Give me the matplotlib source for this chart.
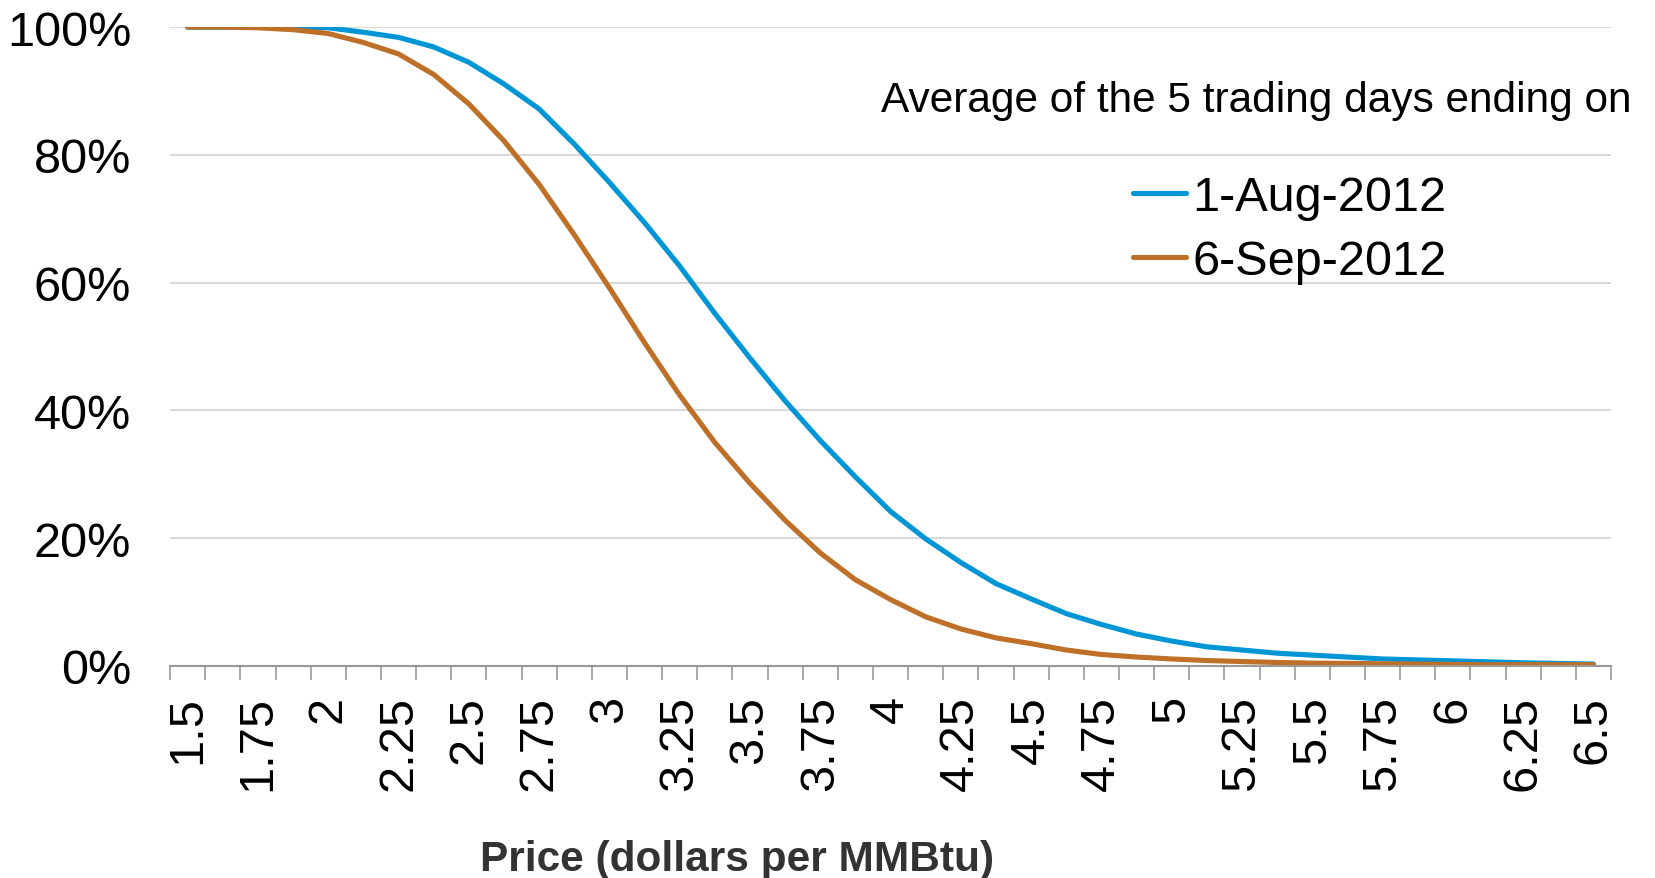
import matplotlib
matplotlib.use("Agg")
import matplotlib.pyplot as plt
from matplotlib.ticker import FixedLocator, PercentFormatter

plt.rcParams['font.family'] = ['Liberation Sans', 'DejaVu Sans']

# Price grid (dollars per MMBtu), one category every 12.5 cents
prices = [1.5, 1.625, 1.75, 1.875, 2.0, 2.125, 2.25, 2.375, 2.5, 2.625,
          2.75, 2.875, 3.0, 3.125, 3.25, 3.375, 3.5, 3.625, 3.75, 3.875,
          4.0, 4.125, 4.25, 4.375, 4.5, 4.625, 4.75, 4.875, 5.0, 5.125,
          5.25, 5.375, 5.5, 5.625, 5.75, 5.875, 6.0, 6.125, 6.25, 6.375, 6.5]

# Probability that the price ends above each level (percent)
aug_1 = [100.0, 100.0, 100.0, 100.0, 99.9, 99.2, 98.4, 96.9, 94.5, 91.1,
         87.2, 81.7, 75.7, 69.4, 62.6, 55.2, 48.2, 41.5, 35.3, 29.6,
         24.2, 19.9, 16.2, 12.9, 10.5, 8.2, 6.5, 5.0, 3.9, 3.0,
         2.5, 2.0, 1.7, 1.4, 1.1, 0.95, 0.8, 0.65, 0.5, 0.4, 0.3]
sep_6 = [100.0, 100.0, 99.9, 99.6, 99.0, 97.6, 95.8, 92.6, 88.0, 82.2,
         75.4, 67.5, 59.2, 50.6, 42.4, 35.0, 28.6, 22.8, 17.7, 13.5,
         10.4, 7.7, 5.8, 4.4, 3.5, 2.5, 1.8, 1.4, 1.1, 0.85,
         0.7, 0.55, 0.45, 0.4, 0.35, 0.3, 0.25, 0.2, 0.2, 0.2, 0.2]

series_labels = ['1-Aug-2012', '6-Sep-2012']
series_colors = ['#0096d6', '#be7029']

fig = plt.figure(figsize=(16.56, 8.79), dpi=100)
ax = fig.add_axes([0.1027, 0.2412, 0.8701, 0.7268])

x = list(range(len(prices)))
ax.plot(x, [v / 100 for v in aug_1], color=series_colors[0], lw=3.7,
        solid_capstyle='round', label=series_labels[0])
ax.plot(x, [v / 100 for v in sep_6], color=series_colors[1], lw=3.7,
        solid_capstyle='round', label=series_labels[1])

ax.set_xlim(-0.5, len(prices) - 0.5)
ax.set_ylim(0, 1)

# labels on every other category, tick marks between categories
ax.set_xticks(x[::2])
ax.set_xticklabels(['{:g}'.format(p) for p in prices[::2]], rotation=90)
ax.xaxis.set_minor_locator(FixedLocator([i - 0.5 for i in range(len(prices) + 1)]))
ax.tick_params(axis='x', which='major', length=0, pad=21, labelsize=35)
ax.tick_params(axis='x', which='minor', length=10, width=1.2, color='#999999')

ax.set_yticks([0, 0.2, 0.4, 0.6, 0.8, 1.0])
ax.yaxis.set_major_formatter(PercentFormatter(1.0, decimals=0))
ax.tick_params(axis='y', length=0, pad=28, labelsize=35)
ax.grid(axis='y', color='#d9d9d9', lw=1.5)
ax.set_axisbelow(True)

for side in ['left', 'right', 'top']:
    ax.spines[side].set_visible(False)
ax.spines['bottom'].set_color('#999999')
ax.spines['bottom'].set_linewidth(1.5)

fig.text(0.4448, 0.009, 'Price (dollars per MMBtu)', ha='center', va='baseline',
         fontsize=30.5, fontweight='bold', color='#333333')

fig.text(0.9855, 0.8726, 'Average of the 5 trading days ending on', ha='right',
         va='baseline', fontsize=30.5)
ax.legend(loc='upper left', bbox_to_anchor=(0.684, 0.80), bbox_transform=fig.transFigure,
          frameon=False, fontsize=35, handlelength=1.1, handletextpad=0.12,
          labelspacing=0.4, borderpad=0, borderaxespad=0)

fig.savefig('out.png', dpi=100)
